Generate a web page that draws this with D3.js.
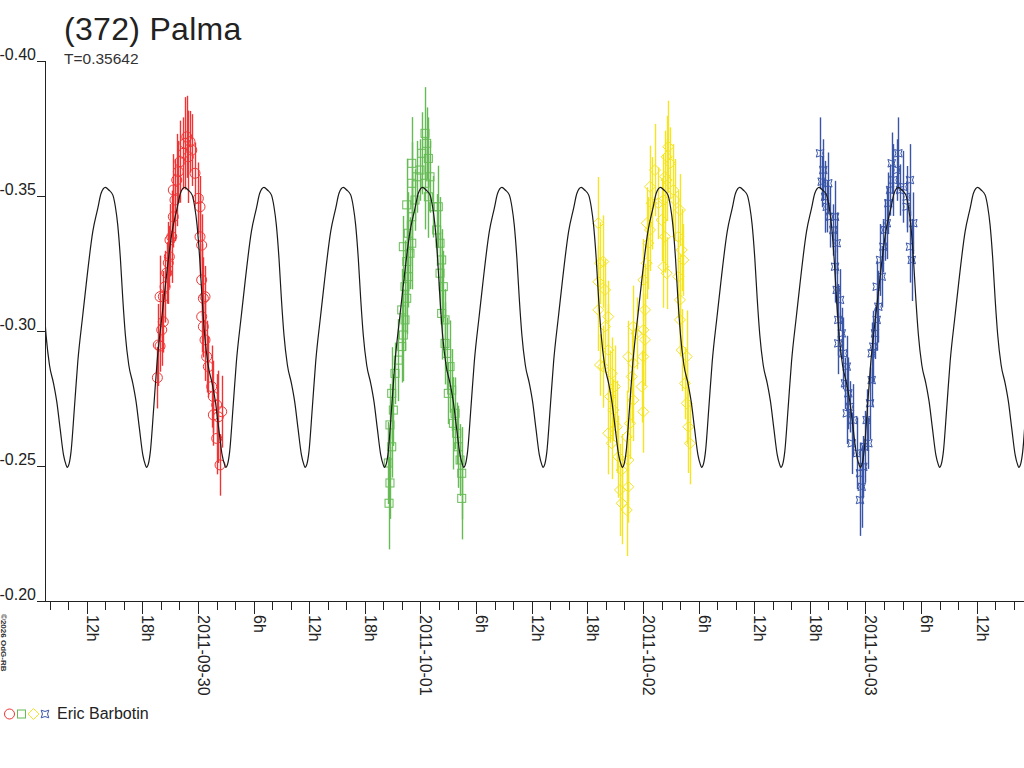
<!DOCTYPE html>
<html><head><meta charset="utf-8">
<script src="https://cdn.jsdelivr.net/npm/d3@7"></script>
<style>
html,body{margin:0;padding:0;background:#fff;}
svg{display:block;font-family:"Liberation Sans",Arial,sans-serif;}
</style></head>
<body>
<script>
// ---- data (times: hours after 2011-09-29 00:00 UT; values: magnitude) ----
const title = "(372) Palma";
const periodLabel = "T=0.35642";
const observer = "Eric Barbotin";
const copyright = "©2026 OdG-RB";
const periodHours = 0.35642 * 24;
const epochMinHours = 26.99;
const xDomainHours = [7.5, 113.1];
const yTicks = [-0.40, -0.35, -0.30, -0.25, -0.20];
const seriesNames = ["red", "green", "yellow", "blue"];
const seriesColors = ["#ee3535", "#66bb55", "#f4e424", "#3a55a6"];
// model light curve, one cycle: [phase, mag]
const modelProfile = [
  [0.000,-0.2497],[0.025,-0.2510],[0.050,-0.2555],[0.092,-0.2716],[0.135,-0.2888],
  [0.198,-0.3061],[0.240,-0.3172],[0.324,-0.3370],[0.387,-0.3456],[0.429,-0.3512],
  [0.483,-0.3534],[0.526,-0.3524],[0.576,-0.3506],[0.609,-0.3462],[0.639,-0.3394],
  [0.672,-0.3271],[0.702,-0.3123],[0.735,-0.2987],[0.778,-0.2876],[0.829,-0.2808],
  [0.870,-0.2740],[0.912,-0.2641],[0.955,-0.2543],[0.987,-0.2506]
];
// observations [hours, mag, error]
const redObs = [
  [19.62,-0.2829,0.006],[19.72,-0.2950,0.008],[19.91,-0.2946,0.005],[20.09,-0.3006,0.007],
  [20.26,-0.3036,0.006],[19.91,-0.3129,0.008],[20.26,-0.3129,0.005],[20.45,-0.3166,0.007],
  [20.63,-0.3217,0.006],[20.80,-0.3254,0.008],[20.91,-0.3277,0.006],[20.98,-0.3339,0.007],
  [21.17,-0.3351,0.009],[21.34,-0.3425,0.006],[21.52,-0.3487,0.008],[21.34,-0.3524,0.007],
  [21.71,-0.3561,0.009],[21.88,-0.3592,0.006],[22.06,-0.3629,0.008],[22.42,-0.3660,0.007],
  [22.60,-0.3697,0.009],[22.79,-0.3721,0.008],[23.14,-0.3703,0.006],[23.33,-0.3672,0.007],
  [22.96,-0.3647,0.009],[23.68,-0.3586,0.006],[24.04,-0.3493,0.007],[24.22,-0.3462,0.006],
  [24.22,-0.3351,0.008],[24.40,-0.3320,0.006],[24.40,-0.3191,0.007],[24.58,-0.3123,0.008],
  [24.76,-0.3129,0.006],[24.40,-0.3055,0.007],[24.58,-0.3018,0.006],[24.76,-0.2969,0.008],
  [24.94,-0.2907,0.007],[25.12,-0.2870,0.006],[25.48,-0.2796,0.008],[25.66,-0.2759,0.007],
  [26.02,-0.2728,0.006],[26.56,-0.2703,0.007],[26.19,-0.2684,0.009],[25.66,-0.2691,0.006],
  [26.02,-0.2604,0.007],[26.38,-0.2506,0.006]
];
const greenObs = [
  [44.61,-0.2364,0.009],[44.71,-0.2439,0.007],[44.53,-0.2513,0.008],[44.90,-0.2573,0.006],
  [44.71,-0.2654,0.008],[45.07,-0.2709,0.007],[44.90,-0.2771,0.009],[45.25,-0.2845,0.006],
  [45.61,-0.2894,0.008],[45.98,-0.2944,0.007],[46.15,-0.2987,0.009],[46.33,-0.3043,0.006],
  [45.98,-0.3080,0.008],[46.52,-0.3123,0.007],[46.33,-0.3166,0.009],[46.69,-0.3203,0.006],
  [46.52,-0.3259,0.008],[46.87,-0.3290,0.007],[47.06,-0.3327,0.009],[46.15,-0.3314,0.006],
  [46.69,-0.3364,0.008],[47.06,-0.3425,0.007],[46.52,-0.3469,0.009],[47.41,-0.3487,0.006],
  [47.06,-0.3549,0.008],[47.60,-0.3573,0.007],[47.06,-0.3623,0.009],[47.95,-0.3598,0.006],
  [48.13,-0.3660,0.008],[48.49,-0.3734,0.009],[48.67,-0.3697,0.007],[48.85,-0.3641,0.008],
  [48.49,-0.3549,0.009],[49.03,-0.3573,0.007],[48.85,-0.3499,0.008],[49.39,-0.3462,0.006],
  [49.92,-0.3462,0.008],[49.75,-0.3376,0.007],[50.11,-0.3327,0.009],[50.29,-0.3265,0.006],
  [50.11,-0.3216,0.008],[50.46,-0.3166,0.007],[50.29,-0.3067,0.009],[50.65,-0.3043,0.006],
  [50.65,-0.2956,0.008],[50.83,-0.2919,0.007],[51.19,-0.2870,0.009],[51.00,-0.2771,0.006],
  [51.37,-0.2783,0.008],[51.73,-0.2697,0.007],[51.55,-0.2660,0.009],[51.91,-0.2623,0.006],
  [52.08,-0.2573,0.008],[52.27,-0.2524,0.007],[52.45,-0.2475,0.009],[52.45,-0.2382,0.008]
];
const yellowObs = [
  [67.18,-0.3401,0.009],[67.37,-0.3253,0.008],[67.18,-0.3184,0.007],[67.72,-0.3259,0.009],
  [67.91,-0.3154,0.006],[67.18,-0.3080,0.008],[68.26,-0.3055,0.007],[67.91,-0.3018,0.009],
  [67.37,-0.2876,0.006],[67.72,-0.2870,0.008],[68.26,-0.2931,0.009],[68.63,-0.2845,0.007],
  [68.98,-0.2796,0.008],[68.45,-0.2759,0.009],[68.80,-0.2709,0.006],[68.26,-0.2623,0.008],
  [68.63,-0.2586,0.007],[69.17,-0.2647,0.009],[69.34,-0.2536,0.008],[69.71,-0.2487,0.007],
  [69.52,-0.2413,0.009],[69.71,-0.2364,0.008],[70.25,-0.2339,0.009],[70.42,-0.2425,0.007],
  [70.42,-0.2524,0.008],[70.25,-0.2610,0.009],[70.60,-0.2660,0.007],[70.96,-0.2746,0.008],
  [70.79,-0.2833,0.009],[70.42,-0.2907,0.007],[70.96,-0.2882,0.008],[72.04,-0.2907,0.006],
  [71.86,-0.2796,0.007],[72.04,-0.2703,0.008],[72.22,-0.2969,0.009],[72.04,-0.3006,0.007],
  [70.96,-0.3018,0.008],[71.32,-0.2993,0.007],[72.22,-0.3080,0.009],[72.04,-0.3191,0.008],
  [72.40,-0.3253,0.007],[72.58,-0.3327,0.009],[72.76,-0.3376,0.008],[72.40,-0.3401,0.007],
  [72.94,-0.3475,0.009],[72.76,-0.3536,0.008],[73.30,-0.3598,0.009],[73.66,-0.3475,0.007],
  [74.02,-0.3413,0.008],[74.38,-0.3573,0.009],[74.56,-0.3647,0.008],[74.73,-0.3684,0.009],
  [74.92,-0.3623,0.007],[74.56,-0.3561,0.008],[74.20,-0.3487,0.009],[74.38,-0.3351,0.007],
  [74.20,-0.3240,0.008],[74.56,-0.3216,0.007],[75.27,-0.3524,0.009],[75.45,-0.3487,0.008],
  [75.99,-0.3450,0.007],[75.81,-0.3351,0.009],[76.18,-0.3302,0.008],[76.35,-0.3265,0.007],
  [75.81,-0.3203,0.008],[75.99,-0.3117,0.009],[75.99,-0.3043,0.007],[76.18,-0.2931,0.008],
  [76.72,-0.2907,0.009],[76.53,-0.2808,0.007],[76.72,-0.2734,0.008],[76.89,-0.2647,0.009],
  [77.07,-0.2586,0.008]
];
const blueObs = [
  [91.10,-0.3660,0.007],[91.45,-0.3598,0.006],[91.28,-0.3555,0.005],[91.99,-0.3549,0.006],
  [91.64,-0.3499,0.007],[91.82,-0.3462,0.005],[92.18,-0.3425,0.006],[92.72,-0.3425,0.007],
  [92.53,-0.3376,0.005],[92.90,-0.3327,0.006],[92.72,-0.3240,0.007],[92.90,-0.3154,0.005],
  [93.26,-0.3117,0.006],[93.07,-0.3043,0.007],[93.44,-0.2993,0.005],[93.07,-0.2956,0.006],
  [93.61,-0.2919,0.007],[93.98,-0.2870,0.006],[93.79,-0.2808,0.005],[94.15,-0.2771,0.007],
  [93.98,-0.2697,0.006],[94.33,-0.2721,0.005],[94.69,-0.2672,0.007],[94.51,-0.2586,0.006],
  [95.05,-0.2549,0.007],[95.41,-0.2475,0.006],[95.59,-0.2425,0.008],[95.41,-0.2376,0.007],
  [95.77,-0.2499,0.006],[95.95,-0.2573,0.007],[96.31,-0.2586,0.005],[96.13,-0.2672,0.006],
  [96.49,-0.2734,0.007],[96.67,-0.2820,0.005],[96.67,-0.2919,0.006],[96.85,-0.2944,0.007],
  [97.03,-0.2993,0.005],[97.21,-0.3043,0.006],[97.39,-0.3092,0.007],[97.21,-0.3166,0.005],
  [97.75,-0.3203,0.006],[97.57,-0.3265,0.007],[97.93,-0.3314,0.005],[98.11,-0.3376,0.006],
  [98.30,-0.3401,0.007],[98.47,-0.3475,0.006],[98.65,-0.3524,0.005],[99.01,-0.3561,0.007],
  [98.83,-0.3623,0.006],[99.55,-0.3660,0.007],[99.37,-0.3598,0.006],[99.73,-0.3524,0.005],
  [100.08,-0.3536,0.007],[100.44,-0.3499,0.006],[100.80,-0.3561,0.007],[100.44,-0.3462,0.005],
  [101.16,-0.3401,0.006],[100.80,-0.3314,0.007],[100.99,-0.3265,0.008]
];

// ---- chart ----
const W = 1024, H = 768;
const svg = d3.select("body").append("svg").attr("width", W).attr("height", H);
const x = d3.scaleLinear().domain(xDomainHours).range([45, 1024]);
const y = d3.scaleLinear().domain([-0.40, -0.20]).range([61.5, 601.5]);
const t0 = Date.UTC(2011, 8, 29, 0, 0, 0);
const fmtDate = d3.utcFormat("%Y-%m-%d");

svg.append("defs").append("clipPath").attr("id", "plotclip")
  .append("rect").attr("x", 46).attr("y", 0).attr("width", 978).attr("height", 601);

// title
svg.append("text").attr("x", 64).attr("y", 40).attr("font-size", 32).attr("fill", "#222")
  .attr("letter-spacing", 0.3).text(title);
svg.append("text").attr("x", 64).attr("y", 64).attr("font-size", 15.5).attr("fill", "#333").text(periodLabel);

// y axis
const yAxis = svg.append("g");
yAxis.append("line").attr("x1", 45.5).attr("x2", 45.5).attr("y1", 61).attr("y2", 602).attr("stroke", "#222");
yTicks.forEach(v => {
  yAxis.append("line").attr("x1", 37).attr("x2", 45.5).attr("y1", y(v)).attr("y2", y(v)).attr("stroke", "#222");
  yAxis.append("text").attr("x", 36).attr("y", y(v) - 1.5).attr("text-anchor", "end")
    .attr("font-size", 16).attr("fill", "#222").text(v.toFixed(2));
});

// x axis
const xAxis = svg.append("g");
xAxis.append("line").attr("x1", 45).attr("x2", 1024).attr("y1", 601.5).attr("y2", 601.5).attr("stroke", "#222");
const xTickHours = d3.range(8, xDomainHours[1], 2);
xTickHours.forEach(h => {
  const major = h % 6 === 0;
  const px = Math.round(x(h)) + 0.5;
  xAxis.append("line").attr("x1", px).attr("x2", px).attr("y1", 601.5).attr("y2", major ? 614 : 610)
    .attr("stroke", "#222");
  if (major) {
    const lab = (h % 24 === 0) ? fmtDate(new Date(t0 + h * 3600e3)) : (h % 24) + "h";
    xAxis.append("text").attr("transform", `translate(${px - 0.5},615) rotate(90)`)
      .attr("font-size", 16).attr("fill", "#222").text(lab);
  }
});

// copyright
svg.append("text").attr("transform", "translate(1,614) rotate(90)").attr("font-size", 8)
  .attr("font-weight", "bold").attr("fill", "#333").text(copyright);

// markers
const starPath = s => `M${-s},${-s}Q0,${-s/3} ${s},${-s}Q${s/3},0 ${s},${s}Q0,${s/3} ${-s},${s}Q${-s/3},0 ${-s},${-s}Z`;
function drawMarker(g, kind, color) {
  if (kind === 0) g.append("circle").attr("r", 5).attr("fill", "none").attr("stroke", color);
  else if (kind === 1) g.append("rect").attr("x", -4).attr("y", -4).attr("width", 8).attr("height", 8)
    .attr("fill", "none").attr("stroke", color);
  else if (kind === 2) g.append("path").attr("d", "M0,-5.5L5.5,0L0,5.5L-5.5,0Z").attr("fill", "none").attr("stroke", color);
  else g.append("path").attr("d", starPath(3.8)).attr("fill", "none").attr("stroke", color);
}

const plot = svg.append("g").attr("clip-path", "url(#plotclip)");
const allObs = [redObs, greenObs, yellowObs, blueObs];
allObs.forEach((obs, i) => {
  const g = plot.append("g");
  g.selectAll("line.err").data(obs).enter().append("line")
    .attr("x1", d => Math.round(x(d[0])) + 0.5).attr("x2", d => Math.round(x(d[0])) + 0.5)
    .attr("y1", d => y(d[1] - d[2] * 1.9)).attr("y2", d => y(d[1] + d[2] * 1.9))
    .attr("stroke", seriesColors[i]).attr("stroke-width", 1.4);
  obs.forEach(d => {
    const mg = g.append("g").attr("transform", `translate(${x(d[0])},${y(d[1])})`);
    drawMarker(mg, i, seriesColors[i]);
  });
});

// model curve (periodic)
const modelPts = [];
for (let k = -4; k <= 13; k++) {
  modelProfile.forEach(p => {
    const h = epochMinHours + (k + p[0]) * periodHours;
    if (h >= xDomainHours[0] - 3 && h <= xDomainHours[1] + 3) modelPts.push([h, p[1]]);
  });
}
plot.append("path").datum(modelPts)
  .attr("d", d3.line().x(d => x(d[0])).y(d => y(d[1])).curve(d3.curveMonotoneX))
  .attr("fill", "none").attr("stroke", "#1a1a1a").attr("stroke-width", 1.2);

// legend
const leg = svg.append("g");
[9.5, 21.5, 33.5, 45].forEach((lx, i) => {
  const mg = leg.append("g").attr("transform", `translate(${lx},714)`);
  drawMarker(mg, i, seriesColors[i]);
});
leg.append("text").attr("x", 57).attr("y", 719).attr("font-size", 16).attr("fill", "#222").text(observer);
</script>
</body></html>
